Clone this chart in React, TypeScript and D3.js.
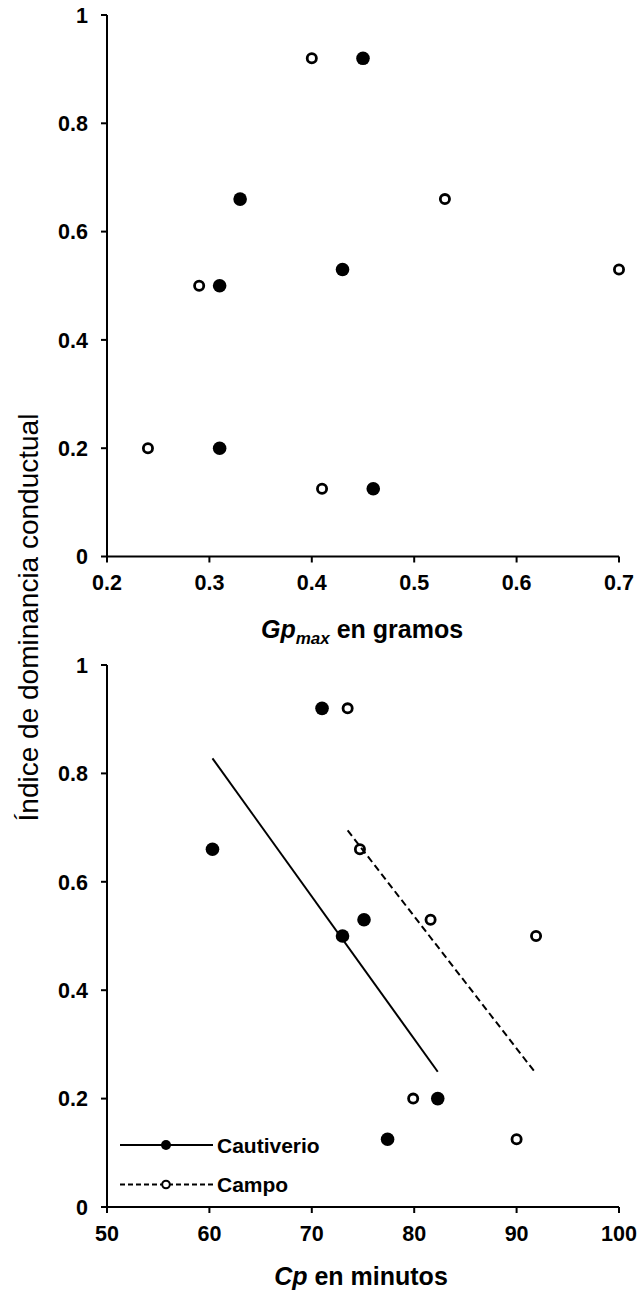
import React from "react";
import * as d3 from "d3";

// Índice de dominancia conductual (same individuals in both panels)
const idxCautiverio = [0.92, 0.66, 0.5, 0.53, 0.2, 0.125];
const idxCampo = [0.92, 0.66, 0.5, 0.53, 0.2, 0.125];
// Gp_max en gramos
const gpCautiverio = [0.45, 0.33, 0.31, 0.43, 0.31, 0.46];
const gpCampo = [0.4, 0.53, 0.29, 0.7, 0.24, 0.41];
// Cp en minutos
const cpCautiverio = [71.0, 60.3, 73.0, 75.1, 82.3, 77.4];
const cpCampo = [73.5, 74.7, 91.9, 81.6, 79.9, 90.0];

const yTicks = [0, 0.2, 0.4, 0.6, 0.8, 1];
const gpTicks = [0.2, 0.3, 0.4, 0.5, 0.6, 0.7];
const cpTicks = [50, 60, 70, 80, 90, 100];
const seriesNames = ["Cautiverio", "Campo"];

const FONT = "'Liberation Sans', Arial, sans-serif";
const X0 = 107;
const X1 = 619;

function fit(xs: number[], ys: number[]) {
  const mx = d3.mean(xs)!;
  const my = d3.mean(ys)!;
  let sxy = 0;
  let sxx = 0;
  xs.forEach((x, i) => {
    sxy += (x - mx) * (ys[i] - my);
    sxx += (x - mx) * (x - mx);
  });
  const b = sxy / sxx;
  const a = my - b * mx;
  const [lo, hi] = d3.extent(xs) as [number, number];
  return [
    [lo, a + b * lo],
    [hi, a + b * hi],
  ];
}

function Panel({
  top,
  bottom,
  xDomain,
  xTicks,
  xFmt,
  xsA,
  xsB,
  trend,
}: {
  top: number;
  bottom: number;
  xDomain: [number, number];
  xTicks: number[];
  xFmt: (v: number) => string;
  xsA: number[];
  xsB: number[];
  trend: boolean;
}) {
  const x = d3.scaleLinear().domain(xDomain).range([X0, X1]);
  const y = d3.scaleLinear().domain([0, 1]).range([bottom, top]);
  const line = d3
    .line<number[]>()
    .x((d) => x(d[0]))
    .y((d) => y(d[1]));
  const yFmt = (v: number) => (v === 0 || v === 1 ? String(v) : v.toFixed(1));
  return (
    <g>
      <line x1={X0} x2={X0} y1={y(1)} y2={y(0)} stroke="#000" strokeWidth={2} />
      <line x1={X0} x2={x(xDomain[1])} y1={y(0)} y2={y(0)} stroke="#000" strokeWidth={2} />
      {yTicks.map((t) => (
        <g key={"y" + t}>
          <line x1={X0 - 6} x2={X0} y1={y(t)} y2={y(t)} stroke="#000" strokeWidth={2} />
          <text
            x={X0 - 19}
            y={y(t)}
            dy="0.36em"
            textAnchor="end"
            fontFamily={FONT}
            fontWeight="bold"
            fontSize={21.5}
          >
            {yFmt(t)}
          </text>
        </g>
      ))}
      {xTicks.map((t) => (
        <g key={"x" + t}>
          <line x1={x(t)} x2={x(t)} y1={y(0)} y2={y(0) + 6} stroke="#000" strokeWidth={2} />
          <text
            x={x(t)}
            y={y(0) + 33.5}
            textAnchor="middle"
            fontFamily={FONT}
            fontWeight="bold"
            fontSize={21.5}
          >
            {xFmt(t)}
          </text>
        </g>
      ))}
      {xsA.map((v, i) => (
        <circle key={"a" + i} cx={x(v)} cy={y(idxCautiverio[i])} r={6.8} fill="#000" />
      ))}
      {xsB.map((v, i) => (
        <circle
          key={"b" + i}
          cx={x(v)}
          cy={y(idxCampo[i])}
          r={4.6}
          fill="#fff"
          stroke="#000"
          strokeWidth={2.8}
        />
      ))}
      {trend && (
        <>
          <path d={line(fit(xsA, idxCautiverio))!} stroke="#000" strokeWidth={2} fill="none" />
          <path
            d={line(fit(xsB, idxCampo))!}
            stroke="#000"
            strokeWidth={2}
            strokeDasharray="7,4"
            fill="none"
          />
        </>
      )}
    </g>
  );
}

export default function App() {
  return (
    <svg
      width={639}
      height={1293}
      style={{ position: "absolute", left: 0, top: 0, background: "#fff" }}
    >
      <rect width={639} height={1293} fill="#fff" />
      <Panel
        top={15}
        bottom={556.5}
        xDomain={[0.2, 0.7]}
        xTicks={gpTicks}
        xFmt={(v) => v.toFixed(1)}
        xsA={gpCautiverio}
        xsB={gpCampo}
        trend={false}
      />
      <Panel
        top={665}
        bottom={1207}
        xDomain={[50, 100]}
        xTicks={cpTicks}
        xFmt={(v) => String(v)}
        xsA={cpCautiverio}
        xsB={cpCampo}
        trend={true}
      />
      <text x={362} y={638} textAnchor="middle" fontFamily={FONT} fontWeight="bold" fontSize={25}>
        <tspan fontStyle="italic">Gp</tspan>
        <tspan fontStyle="italic" fontSize={17} dy={6}>
          max
        </tspan>
        <tspan dy={-6}> en gramos</tspan>
      </text>
      <text x={361} y={1285} textAnchor="middle" fontFamily={FONT} fontWeight="bold" fontSize={25}>
        <tspan fontStyle="italic">Cp</tspan>
        <tspan> en minutos</tspan>
      </text>
      <text
        transform="translate(38,617.5) rotate(-90)"
        textAnchor="middle"
        fontFamily={FONT}
        fontSize={28}
      >
        Índice de dominancia conductual
      </text>
      <g>
        <line x1={120} x2={213} y1={1145} y2={1145} stroke="#000" strokeWidth={2} />
        <circle cx={166} cy={1145} r={5} fill="#000" />
        <text x={217} y={1145} dy="0.36em" fontFamily={FONT} fontWeight="bold" fontSize={21}>
          {seriesNames[0]}
        </text>
        <line
          x1={120}
          x2={213}
          y1={1184.5}
          y2={1184.5}
          stroke="#000"
          strokeWidth={2}
          strokeDasharray="5,3"
        />
        <circle cx={166} cy={1184.5} r={3.8} fill="#fff" stroke="#000" strokeWidth={2} />
        <text x={217} y={1184.5} dy="0.36em" fontFamily={FONT} fontWeight="bold" fontSize={21}>
          {seriesNames[1]}
        </text>
      </g>
    </svg>
  );
}
